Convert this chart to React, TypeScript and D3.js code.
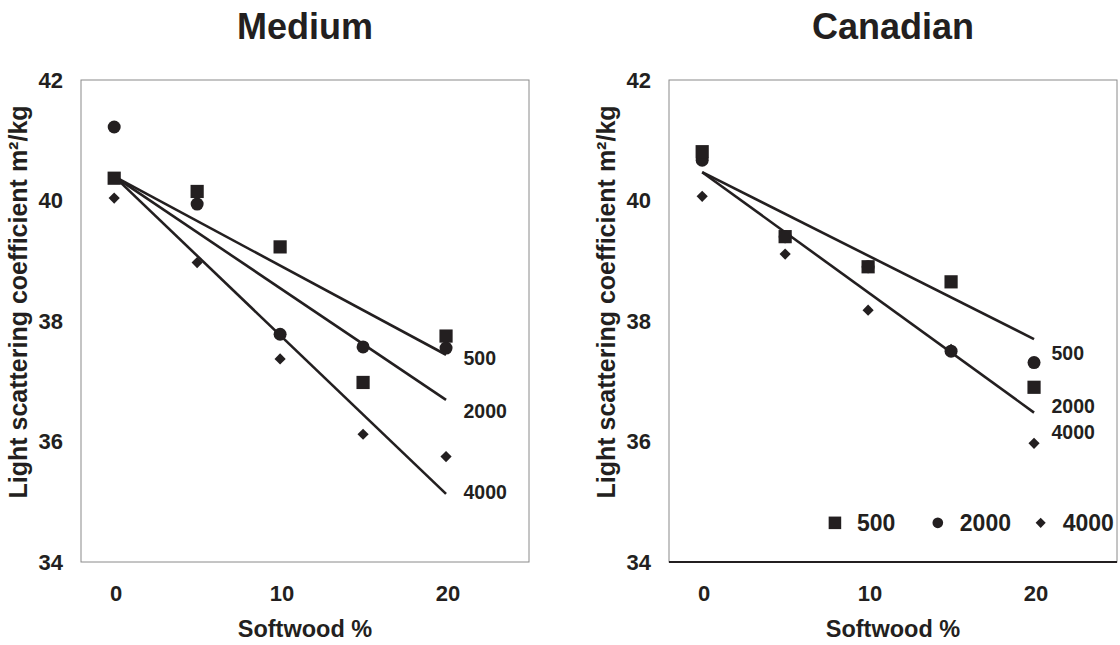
import React from "react";
import * as d3 from "d3";

// ---- data ----
const softwood = [0, 5, 10, 15, 20];
const xTicks = [0, 10, 20];
const yTicks = [34, 36, 38, 40, 42];
const seriesNames = ["500", "2000", "4000"];

const medium500 = [40.37, 40.15, 39.23, 36.98, 37.75];
const medium2000 = [41.22, 39.94, 37.78, 37.57, 37.55];
const medium4000 = [40.04, 38.97, 37.37, 36.12, 35.75];

const canadian500 = [40.81, 39.4, 38.9, 38.65, 36.9];
const canadian2000 = [40.67, 39.4, 38.9, 37.5, 37.31];
const canadian4000 = [40.07, 39.11, 38.18, 37.53, 35.97];

const fitX = [0, 20];
const mediumFit500 = [40.4, 37.44];
const mediumFit2000 = [40.4, 36.69];
const mediumFit4000 = [40.4, 35.13];
const canadianFit500 = [40.47, 37.7];
const canadianFit2000 = [40.47, 36.48];

const mediumLabelY = [37.39, 36.51, 35.16];
const canadianLabelY = [37.47, 36.59, 36.15];

const FONT = "'Liberation Sans', Arial, Helvetica, sans-serif";
const INK = "#231f20";

type Shape = "square" | "circle" | "diamond";
const shapes: Shape[] = ["square", "circle", "diamond"];
const drawOrder = [1, 0, 2];

function Marker({ shape, x, y, s = 1 }: { shape: Shape; x: number; y: number; s?: number }) {
  if (shape === "square") {
    const h = 6.6 * s;
    return <rect x={x - h} y={y - h} width={2 * h} height={2 * h} fill={INK} />;
  }
  if (shape === "circle") {
    return <circle cx={x} cy={y} r={6.5 * s} fill={INK} />;
  }
  const d = 5.6 * s;
  return <path d={`M${x},${y - d}L${x + d},${y}L${x},${y + d}L${x - d},${y}Z`} fill={INK} />;
}

type PanelProps = {
  title: string;
  left: number;
  series: number[][];
  fits: number[][];
  labelY: number[];
  legend: boolean;
  darkBottom: boolean;
};

function Panel({ title, left, series, fits, labelY, legend, darkBottom }: PanelProps) {
  const top = 80;
  const bottom = 562;
  const width = 448;
  const x = d3.scaleLinear().domain([-2, 25]).range([left, left + width]);
  const y = d3.scaleLinear().domain([34, 42]).range([bottom, top]);
  const line = d3
    .line<number>()
    .x((_, i) => x(fitX[i]))
    .y((v) => y(v));
  const cx = left + width / 2;
  const legendScale = [0.95, 0.82, 0.9];
  return (
    <g>
      <text x={cx} y={39} textAnchor="middle" fontFamily={FONT} fontWeight="bold" fontSize={36} fill={INK}>
        {title}
      </text>
      <rect x={left} y={top} width={width} height={bottom - top} fill="none" stroke="#8a8a8a" strokeWidth={1} />
      {darkBottom && <line x1={left} x2={left + width} y1={bottom} y2={bottom} stroke={INK} strokeWidth={2.2} />}
      {yTicks.map((t) => (
        <text key={t} x={left - 18} y={y(t)} dy="0.36em" textAnchor="end" fontFamily={FONT} fontWeight="bold" fontSize={22} fill={INK}>
          {t}
        </text>
      ))}
      {xTicks.map((t) => (
        <text key={t} x={x(t) + 2} y={bottom + 39} textAnchor="middle" fontFamily={FONT} fontWeight="bold" fontSize={22} fill={INK}>
          {t}
        </text>
      ))}
      <text x={cx} y={bottom + 75} textAnchor="middle" fontFamily={FONT} fontWeight="bold" fontSize={23.5} fill={INK}>
        Softwood %
      </text>
      <text
        transform={`translate(${left - 54},302) rotate(-90)`}
        textAnchor="middle"
        fontFamily={FONT}
        fontWeight="bold"
        fontSize={25}
        fill={INK}
      >
        Light scattering coefficient m²/kg
      </text>
      {fits.map((f, i) => (
        <path key={i} d={line(f) || ""} fill="none" stroke={INK} strokeWidth={2.6} />
      ))}
      {drawOrder.map((si) =>
        series[si].map((v, i) => <Marker key={`${si}-${i}`} shape={shapes[si]} x={x(softwood[i])} y={y(v)} />)
      )}
      {labelY.map((v, i) => (
        <text key={i} x={x(21.05)} y={y(v)} dy="0.36em" fontFamily={FONT} fontWeight="bold" fontSize={19.5} fill={INK}>
          {seriesNames[i]}
        </text>
      ))}
      {legend && (
        <g>
          {seriesNames.map((n, i) => {
            const mx = [x(8), x(14.2), x(20.4)][i];
            const my = y(34.65);
            return (
              <g key={n}>
                <Marker shape={shapes[i]} x={mx} y={my} s={legendScale[i]} />
                <text x={mx + 22} y={my} dy="0.36em" fontFamily={FONT} fontWeight="bold" fontSize={23} fill={INK}>
                  {n}
                </text>
              </g>
            );
          })}
        </g>
      )}
    </g>
  );
}

export default function App() {
  return (
    <svg width={1120} height={645} style={{ position: "absolute", left: 0, top: 0, background: "#fff" }}>
      <rect width={1120} height={645} fill="#fff" />
      <Panel
        title="Medium"
        left={81}
        series={[medium500, medium2000, medium4000]}
        fits={[mediumFit500, mediumFit2000, mediumFit4000]}
        labelY={mediumLabelY}
        legend={false}
        darkBottom={false}
      />
      <Panel
        title="Canadian"
        left={669}
        series={[canadian500, canadian2000, canadian4000]}
        fits={[canadianFit500, canadianFit2000]}
        labelY={canadianLabelY}
        legend={true}
        darkBottom={true}
      />
    </svg>
  );
}
